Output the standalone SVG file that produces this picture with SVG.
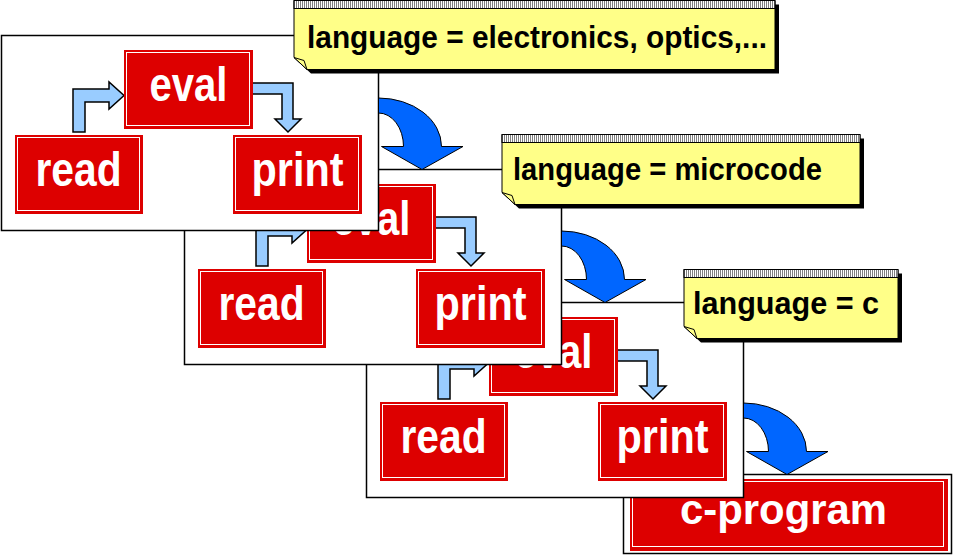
<svg xmlns="http://www.w3.org/2000/svg" width="956" height="559" viewBox="0 0 956 559">
<style>
.panel{fill:#fff;stroke:#000;stroke-width:1.5}
.box{fill:#dd0000}
.inner{fill:none;stroke:#fff;stroke-width:1}
.btxt{font-family:"Liberation Sans",Arial,sans-serif;font-weight:bold;font-size:48px;fill:#fff;text-anchor:middle}
.small{fill:#99ccff;stroke:#000;stroke-width:1.5;stroke-linejoin:miter}
.big{fill:#0066ff;stroke:#000;stroke-width:1}
.nshadow{fill:#000}
.nbody{fill:#ffff88;stroke:#000;stroke-width:1}
.nband{fill:url(#stipple);stroke:#000;stroke-width:1}
.ntxt{font-family:"Liberation Sans",Arial,sans-serif;font-weight:bold;font-size:31px;fill:#000}
</style>
<defs>
<pattern id="stipple" width="2" height="2" patternUnits="userSpaceOnUse">
<rect width="2" height="2" fill="#fff"/><rect width="1" height="1" fill="#000"/>
</pattern>
<path id="bigArrow" d="M 378.5 98 A 63 48.5 0 0 1 441.5 146.5 L 463 146.5 L 422 169.5 L 381.5 146.5 L 403.5 146.5 A 25 33.5 0 0 0 378.5 113 Z"/>
</defs>
<rect width="956" height="559" fill="#fff"/>

<!-- c-program (under panel 3) -->
<g id="c-program">
<rect x="623.5" y="474.5" width="328" height="79" fill="#fff" stroke="#000" stroke-width="1.5"/>
<rect class="box" x="630" y="479" width="318" height="72"/>
<rect class="inner" x="632.5" y="481.5" width="311" height="65"/>
<text class="btxt" x="783.5" y="523.5" font-size="42" style="font-size:42px" textLength="207" lengthAdjust="spacingAndGlyphs">c-program</text>
</g>

<!-- panel 3 -->
<g id="panel3" transform="translate(366,302)">
<rect class="panel" x="0.5" y="0.5" width="377" height="195"/>
<g id="panel3-connectors">
<polygon class="small" points="72,97 72,54 108,54 108,47 123,60.5 108,74 108,67 84,67 84,97"/>
<polygon class="small" points="250,48 292,48 292,84 300,84 287,97 274,84 281,84 281,59 250,59"/>
</g>
<g id="eval3"><rect class="box" x="123" y="15" width="129" height="79"/><rect class="inner" x="125.5" y="17.5" width="123" height="73"/><text class="btxt" x="187.5" y="66" textLength="78" lengthAdjust="spacingAndGlyphs">eval</text></g>
<g id="read3"><rect class="box" x="14" y="100" width="128" height="79"/><rect class="inner" x="16.5" y="102.5" width="122" height="73"/><text class="btxt" x="77.5" y="151" textLength="86" lengthAdjust="spacingAndGlyphs">read</text></g>
<g id="print3"><rect class="box" x="232" y="100" width="129" height="79"/><rect class="inner" x="234.5" y="102.5" width="123" height="73"/><text class="btxt" x="296.5" y="151" textLength="92" lengthAdjust="spacingAndGlyphs">print</text></g>
</g>

<!-- panel 2 -->
<g id="panel2" transform="translate(184,169)">
<rect class="panel" x="0.5" y="0.5" width="377" height="195"/>
<g id="panel2-connectors">
<polygon class="small" points="72,97 72,54 108,54 108,47 123,60.5 108,74 108,67 84,67 84,97"/>
<polygon class="small" points="250,48 292,48 292,84 300,84 287,97 274,84 281,84 281,59 250,59"/>
</g>
<g id="eval2"><rect class="box" x="123" y="15" width="129" height="79"/><rect class="inner" x="125.5" y="17.5" width="123" height="73"/><text class="btxt" x="187.5" y="66" textLength="78" lengthAdjust="spacingAndGlyphs">eval</text></g>
<g id="read2"><rect class="box" x="14" y="100" width="128" height="79"/><rect class="inner" x="16.5" y="102.5" width="122" height="73"/><text class="btxt" x="77.5" y="151" textLength="86" lengthAdjust="spacingAndGlyphs">read</text></g>
<g id="print2"><rect class="box" x="232" y="100" width="129" height="79"/><rect class="inner" x="234.5" y="102.5" width="123" height="73"/><text class="btxt" x="296.5" y="151" textLength="92" lengthAdjust="spacingAndGlyphs">print</text></g>
</g>

<!-- panel 1 -->
<g id="panel1" transform="translate(1,35)">
<rect class="panel" x="0.5" y="0.5" width="377" height="195"/>
<g id="panel1-connectors">
<polygon class="small" points="72,97 72,54 108,54 108,47 123,60.5 108,74 108,67 84,67 84,97"/>
<polygon class="small" points="250,48 292,48 292,84 300,84 287,97 274,84 281,84 281,59 250,59"/>
</g>
<g id="eval1"><rect class="box" x="123" y="15" width="129" height="79"/><rect class="inner" x="125.5" y="17.5" width="123" height="73"/><text class="btxt" x="187.5" y="66" textLength="78" lengthAdjust="spacingAndGlyphs">eval</text></g>
<g id="read1"><rect class="box" x="14" y="100" width="128" height="79"/><rect class="inner" x="16.5" y="102.5" width="122" height="73"/><text class="btxt" x="77.5" y="151" textLength="86" lengthAdjust="spacingAndGlyphs">read</text></g>
<g id="print1"><rect class="box" x="232" y="100" width="129" height="79"/><rect class="inner" x="234.5" y="102.5" width="123" height="73"/><text class="btxt" x="296.5" y="151" textLength="92" lengthAdjust="spacingAndGlyphs">print</text></g>
</g>

<!-- big curved arrows -->
<g id="connectors">
<use href="#bigArrow" class="big"/>
<use href="#bigArrow" class="big" transform="translate(183,133)"/>
<use href="#bigArrow" class="big" transform="translate(365,305)"/>
</g>

<!-- notes -->
<g id="note1" transform="translate(294,0.5)">
<polygon class="nshadow" points="4,4 485,4 485,73 17,73 4,61"/>
<polygon class="nbody" points="0,0 481,0 481,69 13,69 0,57"/>
<rect class="nband" x="0" y="0" width="481" height="8"/>
<polygon class="nbody" points="0,57 10,60 13,69"/>
<text class="ntxt" x="13" y="47.5" textLength="460" lengthAdjust="spacingAndGlyphs">language = electronics, optics,...</text>
</g>
<g id="note2" transform="translate(502,134.5)">
<polygon class="nshadow" points="4,4 362,4 362,74 17,74 4,62"/>
<polygon class="nbody" points="0,0 358,0 358,70 13,70 0,58"/>
<rect class="nband" x="0" y="0" width="358" height="8"/>
<polygon class="nbody" points="0,58 10,61 13,70"/>
<text class="ntxt" x="11" y="45.5" textLength="309" lengthAdjust="spacingAndGlyphs">language = microcode</text>
</g>
<g id="note3" transform="translate(684,269.5)">
<polygon class="nshadow" points="4,4 218,4 218,73 17,73 4,61"/>
<polygon class="nbody" points="0,0 214,0 214,69 13,69 0,57"/>
<rect class="nband" x="0" y="0" width="214" height="8"/>
<polygon class="nbody" points="0,57 10,60 13,69"/>
<text class="ntxt" x="9" y="44" textLength="186" lengthAdjust="spacingAndGlyphs">language = c</text>
</g>
</svg>
